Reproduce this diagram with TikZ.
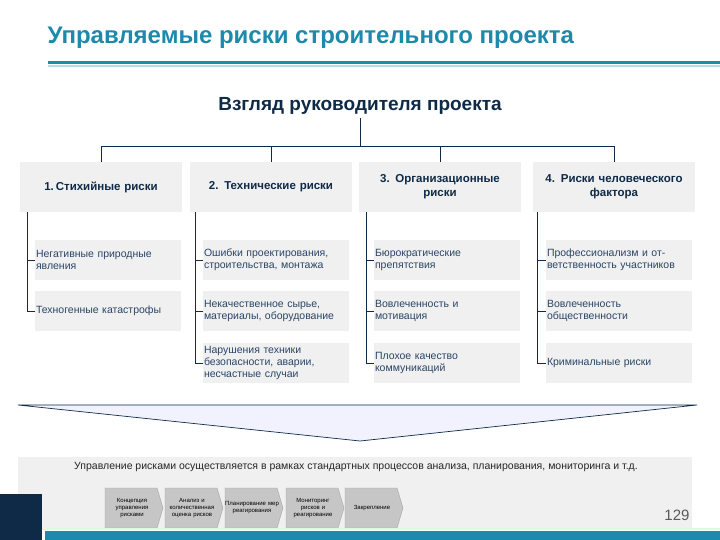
\documentclass[tikz,border=0pt]{standalone}
\usepackage{fontspec}
\setmainfont{Liberation Sans}
\definecolor{teal1}{HTML}{1E8AAB}
\definecolor{navy}{HTML}{0E2A47}
\definecolor{txt}{HTML}{2A4565}
\definecolor{boxg}{HTML}{F0F0F0}
\begin{document}
\begin{tikzpicture}[x=1pt,y=-1pt,
  hdr/.style={fill=boxg,minimum width=162pt,minimum height=50pt,align=center,font=\bfseries\fontsize{11.5}{14}\selectfont,text=navy,text width=158pt,inner sep=1pt},
  sub/.style={fill=boxg,minimum width=146pt,minimum height=40pt,align=left,font=\fontsize{10.5}{12}\selectfont,text=txt,text width=144pt,inner sep=1pt},
  ln/.style={draw=navy,line width=0.8pt},
  chev/.style={fill=gray!45,draw=gray!70,line width=0.4pt},
  ct/.style={font=\fontsize{6}{7}\selectfont,align=center,text width=54pt}]
\useasboundingbox (0,0) rectangle (720,540);
\fill[white] (0,0) rectangle (720,540);
\node[anchor=west,text=teal1,font=\fontsize{24}{27}\selectfont\bfseries] (title) at (44,38) {Управляемые риски строительного проекта};
\fill[teal1] (48,61) rectangle (720,64);
\fill[teal1!30] (48,65) rectangle (720,67);
\node[font=\bfseries\fontsize{19}{22}\selectfont,text=navy] (top) at (360,106) {Взгляд руководителя проекта};
% headers
\node[hdr] (h1) at (101,187) {1.\,Стихийные риски};
\node[hdr] (h2) at (271,187) {2. Технические риски};
\node[hdr] (h3) at (440,187) {3. Организационные\\риски};
\node[hdr] (h4) at (614,187) {4. Риски человеческого\\фактора};
\coordinate (bar) at (360,147);
\draw[ln] (top.south) -- (bar);
\draw[ln] (h1.north) -- ++(0,-15) -| (h4.north);
\draw[ln] (h2.north) -- ++(0,-15);
\draw[ln] (h3.north) -- ++(0,-15);
% subs
\node[sub] (a1) at (108,260) {Негативные природные\\явления};
\node[sub] (a2) at (108,311) {Техногенные катастрофы};
\node[sub] (b1) at (276,260) {Ошибки проектирования,\\строительства, монтажа};
\node[sub] (b2) at (276,311) {Некачественное сырье,\\материалы, оборудование};
\node[sub] (b3) at (276,363) {Нарушения техники\\безопасности, аварии,\\несчастные случаи};
\node[sub] (c1) at (447,260) {Бюрократические\\препятствия};
\node[sub] (c2) at (447,311) {Вовлеченность и\\мотивация};
\node[sub] (c3) at (447,363) {Плохое качество\\коммуникаций};
\node[sub] (d1) at (619,260) {Профессионализм и от-\\ветственность участников};
\node[sub] (d2) at (619,311) {Вовлеченность\\общественности};
\node[sub] (d3) at (619,363) {Криминальные риски};
\draw[ln,line width=0.6pt] (h1.south west)++(7,0) |- (a2.west);
\draw[ln,line width=0.6pt] ([xshift=-8pt]a1.west) -- (a1.west);
\draw[ln,line width=0.6pt] (h2.south west)++(5,0) |- (b3.west);
\draw[ln,line width=0.6pt] ([xshift=-7pt]b1.west) -- (b1.west);
\draw[ln,line width=0.6pt] ([xshift=-7pt]b2.west) -- (b2.west);
\draw[ln,line width=0.6pt] (h3.south west)++(7,0) |- (c3.west);
\draw[ln,line width=0.6pt] ([xshift=-8pt]c1.west) -- (c1.west);
\draw[ln,line width=0.6pt] ([xshift=-8pt]c2.west) -- (c2.west);
\draw[ln,line width=0.6pt] (h4.south west)++(4,0) |- (d3.west);
\draw[ln,line width=0.6pt] ([xshift=-9pt]d1.west) -- (d1.west);
\draw[ln,line width=0.6pt] ([xshift=-9pt]d2.west) -- (d2.west);
% funnel
\coordinate (fl) at (18,405); \coordinate (fr) at (697,405); \coordinate (fb) at (360,441);
\filldraw[fill=blue!5,draw=navy,line width=0.7pt] (fl) -- (fr) -- (fb) -- cycle;
% band
\fill[boxg] (18,457) rectangle (692,530);
\node[font=\fontsize{10.5}{12}\selectfont,text=black!85] (bt) at (356,467) {Управление рисками осуществляется в рамках стандартных процессов анализа, планирования, мониторинга и т.д.};
\foreach \x/\t/\n in {105/{Концепция\\управления\\рисками}/p1,165/{Анализ и\\количественная\\оценка рисков}/p2,225/{Планирование мер\\реагирования}/p3,286/{Мониторинг\\рисков и\\реагирование}/p4,345/{Закрепление}/p5}{
  \filldraw[chev] (\x,488) -- (\x+52,488) -- (\x+58,508) -- (\x+52,528) -- (\x,528) -- cycle;
  \node[ct] (\n) at (\x+27,508) {\t};
}
\node[text=gray!70!black,font=\fontsize{15}{17}\selectfont] (pg) at (677,515) {129};
\fill[navy] (0,494) rectangle (42,540);
\fill[green!15] (45,528) rectangle (720,530);
\fill[teal1] (45,531) rectangle (720,540);
\end{tikzpicture}
\end{document}
